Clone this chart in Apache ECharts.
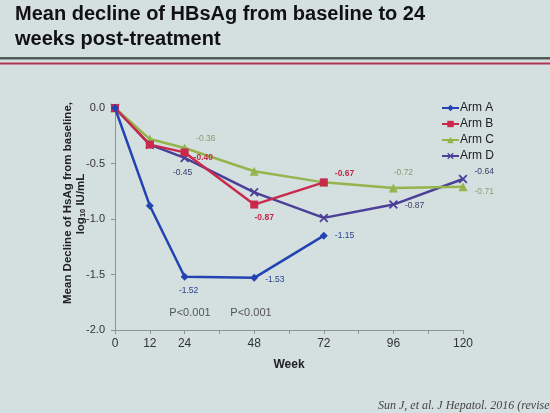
<!DOCTYPE html>
<html>
<head>
<meta charset="utf-8">
<script src="https://cdn.jsdelivr.net/npm/echarts@6/dist/echarts.min.js"></script>
<style>
html,body{margin:0;padding:0;background:#d4dfe0;}
#c{width:550px;height:413px;}
</style>
</head>
<body>
<div id="c"></div>
<script>
var weeks = [0, 12, 24, 48, 72, 96, 120];
var seriesNames = ['Arm A', 'Arm B', 'Arm C', 'Arm D'];
var armA = [0, -0.88, -1.52, -1.53, -1.15, null, null];
var armB = [0, -0.33, -0.40, -0.87, -0.67, null, null];
var armC = [0, -0.28, -0.36, -0.57, -0.67, -0.72, -0.71];
var armD = [0, -0.33, -0.45, -0.76, -0.99, -0.87, -0.64];
var xTickLabels = ['0', '12', '24', '48', '72', '96', '120'];
var yTicks = [0, -0.5, -1.0, -1.5, -2.0];
var pLabels = ['P<0.001', 'P<0.001'];
var titleLines = ['Mean decline of HBsAg from baseline to 24', 'weeks post-treatment'];
var citation = 'Sun J, et al. J Hepatol. 2016 (revised)';

var colors = ['#2443b3', '#c92a4b', '#93b54c', '#4b3f98'];
var labelColors = ['#2a4190', '#c42a48', '#8c9c74', '#3a3a6a'];
var labelWeights = ['normal', 'bold', 'normal', 'normal'];
var symbols = ['diamond', 'rect', 'triangle',
  'path://M0,1.4L1.4,0L5,3.6L8.6,0L10,1.4L6.4,5L10,8.6L8.6,10L5,6.4L1.4,10L0,8.6L3.6,5Z'];
var symbolSizes = [8, 8, 9, 9];
// which weeks get a value label, and where
var labelSpec = [
  {24: {position: 'bottom', offset: [4, 0]}, 48: {position: 'right', offset: [2, 2]}, 72: {position: 'right', offset: [2, 0]}},
  {24: {position: 'right', offset: [0, 5]}, 48: {position: 'bottom', offset: [10, 0]}, 72: {position: 'right', offset: [2, -9]}},
  {24: {position: 'right', offset: [2, -9]}, 96: {position: 'top', offset: [10, -1]}, 120: {position: 'right', offset: [2, 5]}},
  {24: {position: 'bottom', offset: [-2, 1]}, 96: {position: 'right', offset: [2, 1]}, 120: {position: 'right', offset: [2, -7]}}
];
var allData = [armA, armB, armC, armD];

var series = allData.map(function (vals, si) {
  var data = [];
  weeks.forEach(function (w, i) {
    if (vals[i] === null) return;
    var d = {value: [w, vals[i]]};
    var spec = labelSpec[si][w];
    if (spec) {
      d.label = {show: true, position: spec.position, offset: spec.offset,
        formatter: function (p) { return p.value[1].toFixed(2); }};
    }
    data.push(d);
  });
  return {
    name: seriesNames[si],
    type: 'line',
    data: data,
    symbol: symbols[si],
    symbolSize: symbolSizes[si],
    showAllSymbol: true,
    lineStyle: {color: colors[si], width: 2.5},
    itemStyle: {color: colors[si]},
    label: {show: false, color: labelColors[si], fontSize: 8.5, fontWeight: labelWeights[si], fontFamily: 'Liberation Sans, Arial, sans-serif'},
    z: 2 + (3 - si),
    animation: false
  };
});

var chart = echarts.init(document.getElementById('c'));
chart.setOption({
  backgroundColor: '#d4dfe0',
  animation: false,
  textStyle: {fontFamily: 'Liberation Sans, Arial, sans-serif'},
  grid: {left: 115, right: 87, top: 108, bottom: 83},
  legend: {
    orient: 'vertical', left: 436, top: 97, itemGap: 4,
    itemWidth: 17, itemHeight: 8,
    textStyle: {fontSize: 12, color: '#222', padding: [0, 0, 0, -4]},
    data: seriesNames
  },
  xAxis: {
    type: 'value', min: 0, max: 120, interval: 12,
    name: 'Week', nameLocation: 'middle', nameGap: 29,
    nameTextStyle: {fontSize: 12, fontWeight: 'bold', color: '#222'},
    axisLine: {onZero: false, lineStyle: {color: '#8a9494', width: 1}},
    axisTick: {show: true, length: 4, lineStyle: {color: '#8a9494'}},
    splitLine: {show: false},
    axisLabel: {fontSize: 12, color: '#333', margin: 8,
      formatter: function (v) { return xTickLabels.indexOf(String(v)) >= 0 ? String(v) : ''; }}
  },
  yAxis: {
    type: 'value', min: -2, max: 0, interval: 0.5,
    axisLine: {show: true, onZero: false, lineStyle: {color: '#8a9494', width: 1}},
    axisTick: {show: true, length: 4, lineStyle: {color: '#8a9494'}},
    splitLine: {show: false},
    axisLabel: {fontSize: 11, color: '#333', margin: 10,
      formatter: function (v) { return yTicks.indexOf(v) >= 0 ? v.toFixed(1) : ''; }}
  },
  graphic: [
    {type: 'text', left: 15, top: 4, style: {text: titleLines[0], fontSize: 20, fontWeight: 'bold', fill: '#111', fontFamily: 'Liberation Sans, Arial, sans-serif'}},
    {type: 'text', left: 15, top: 29, style: {text: titleLines[1], fontSize: 20, fontWeight: 'bold', fill: '#111', fontFamily: 'Liberation Sans, Arial, sans-serif'}},
    {type: 'rect', shape: {x: 0, y: 57, width: 550, height: 2.5}, style: {fill: '#4f5a5b'}},
    {type: 'rect', shape: {x: 0, y: 62.5, width: 550, height: 2}, style: {fill: '#b23352'}},
    {type: 'text', x: 68, y: 203, rotation: Math.PI / 2,
      style: {text: 'Mean Decline of HsAg from baseline,', fontSize: 11.5, fontWeight: 'bold', fill: '#222',
        align: 'center', verticalAlign: 'middle', fontFamily: 'Liberation Sans, Arial, sans-serif'}},
    {type: 'text', x: 81, y: 204, rotation: Math.PI / 2,
      style: {text: '{a|log}{s|10}{a| IU/mL}', align: 'center', verticalAlign: 'middle',
        rich: {a: {fontSize: 11.5, fontWeight: 'bold', fill: '#222', fontFamily: 'Liberation Sans, Arial, sans-serif'},
               s: {fontSize: 7.5, fontWeight: 'bold', fill: '#222', verticalAlign: 'bottom', padding: [4, 0, 0, 0], fontFamily: 'Liberation Sans, Arial, sans-serif'}}}},
    {type: 'text', x: 190, y: 313, style: {text: pLabels[0], fontSize: 11, fill: '#555', align: 'center', verticalAlign: 'middle', fontFamily: 'Liberation Sans, Arial, sans-serif'}},
    {type: 'text', x: 251, y: 313, style: {text: pLabels[1], fontSize: 11, fill: '#555', align: 'center', verticalAlign: 'middle', fontFamily: 'Liberation Sans, Arial, sans-serif'}},
    {type: 'text', left: 378, top: 400, style: {text: citation, fontSize: 12, fontStyle: 'italic', fill: '#444', fontFamily: 'Liberation Serif, Times New Roman, serif'}}
  ],
  series: series
});
</script>
</body>
</html>
